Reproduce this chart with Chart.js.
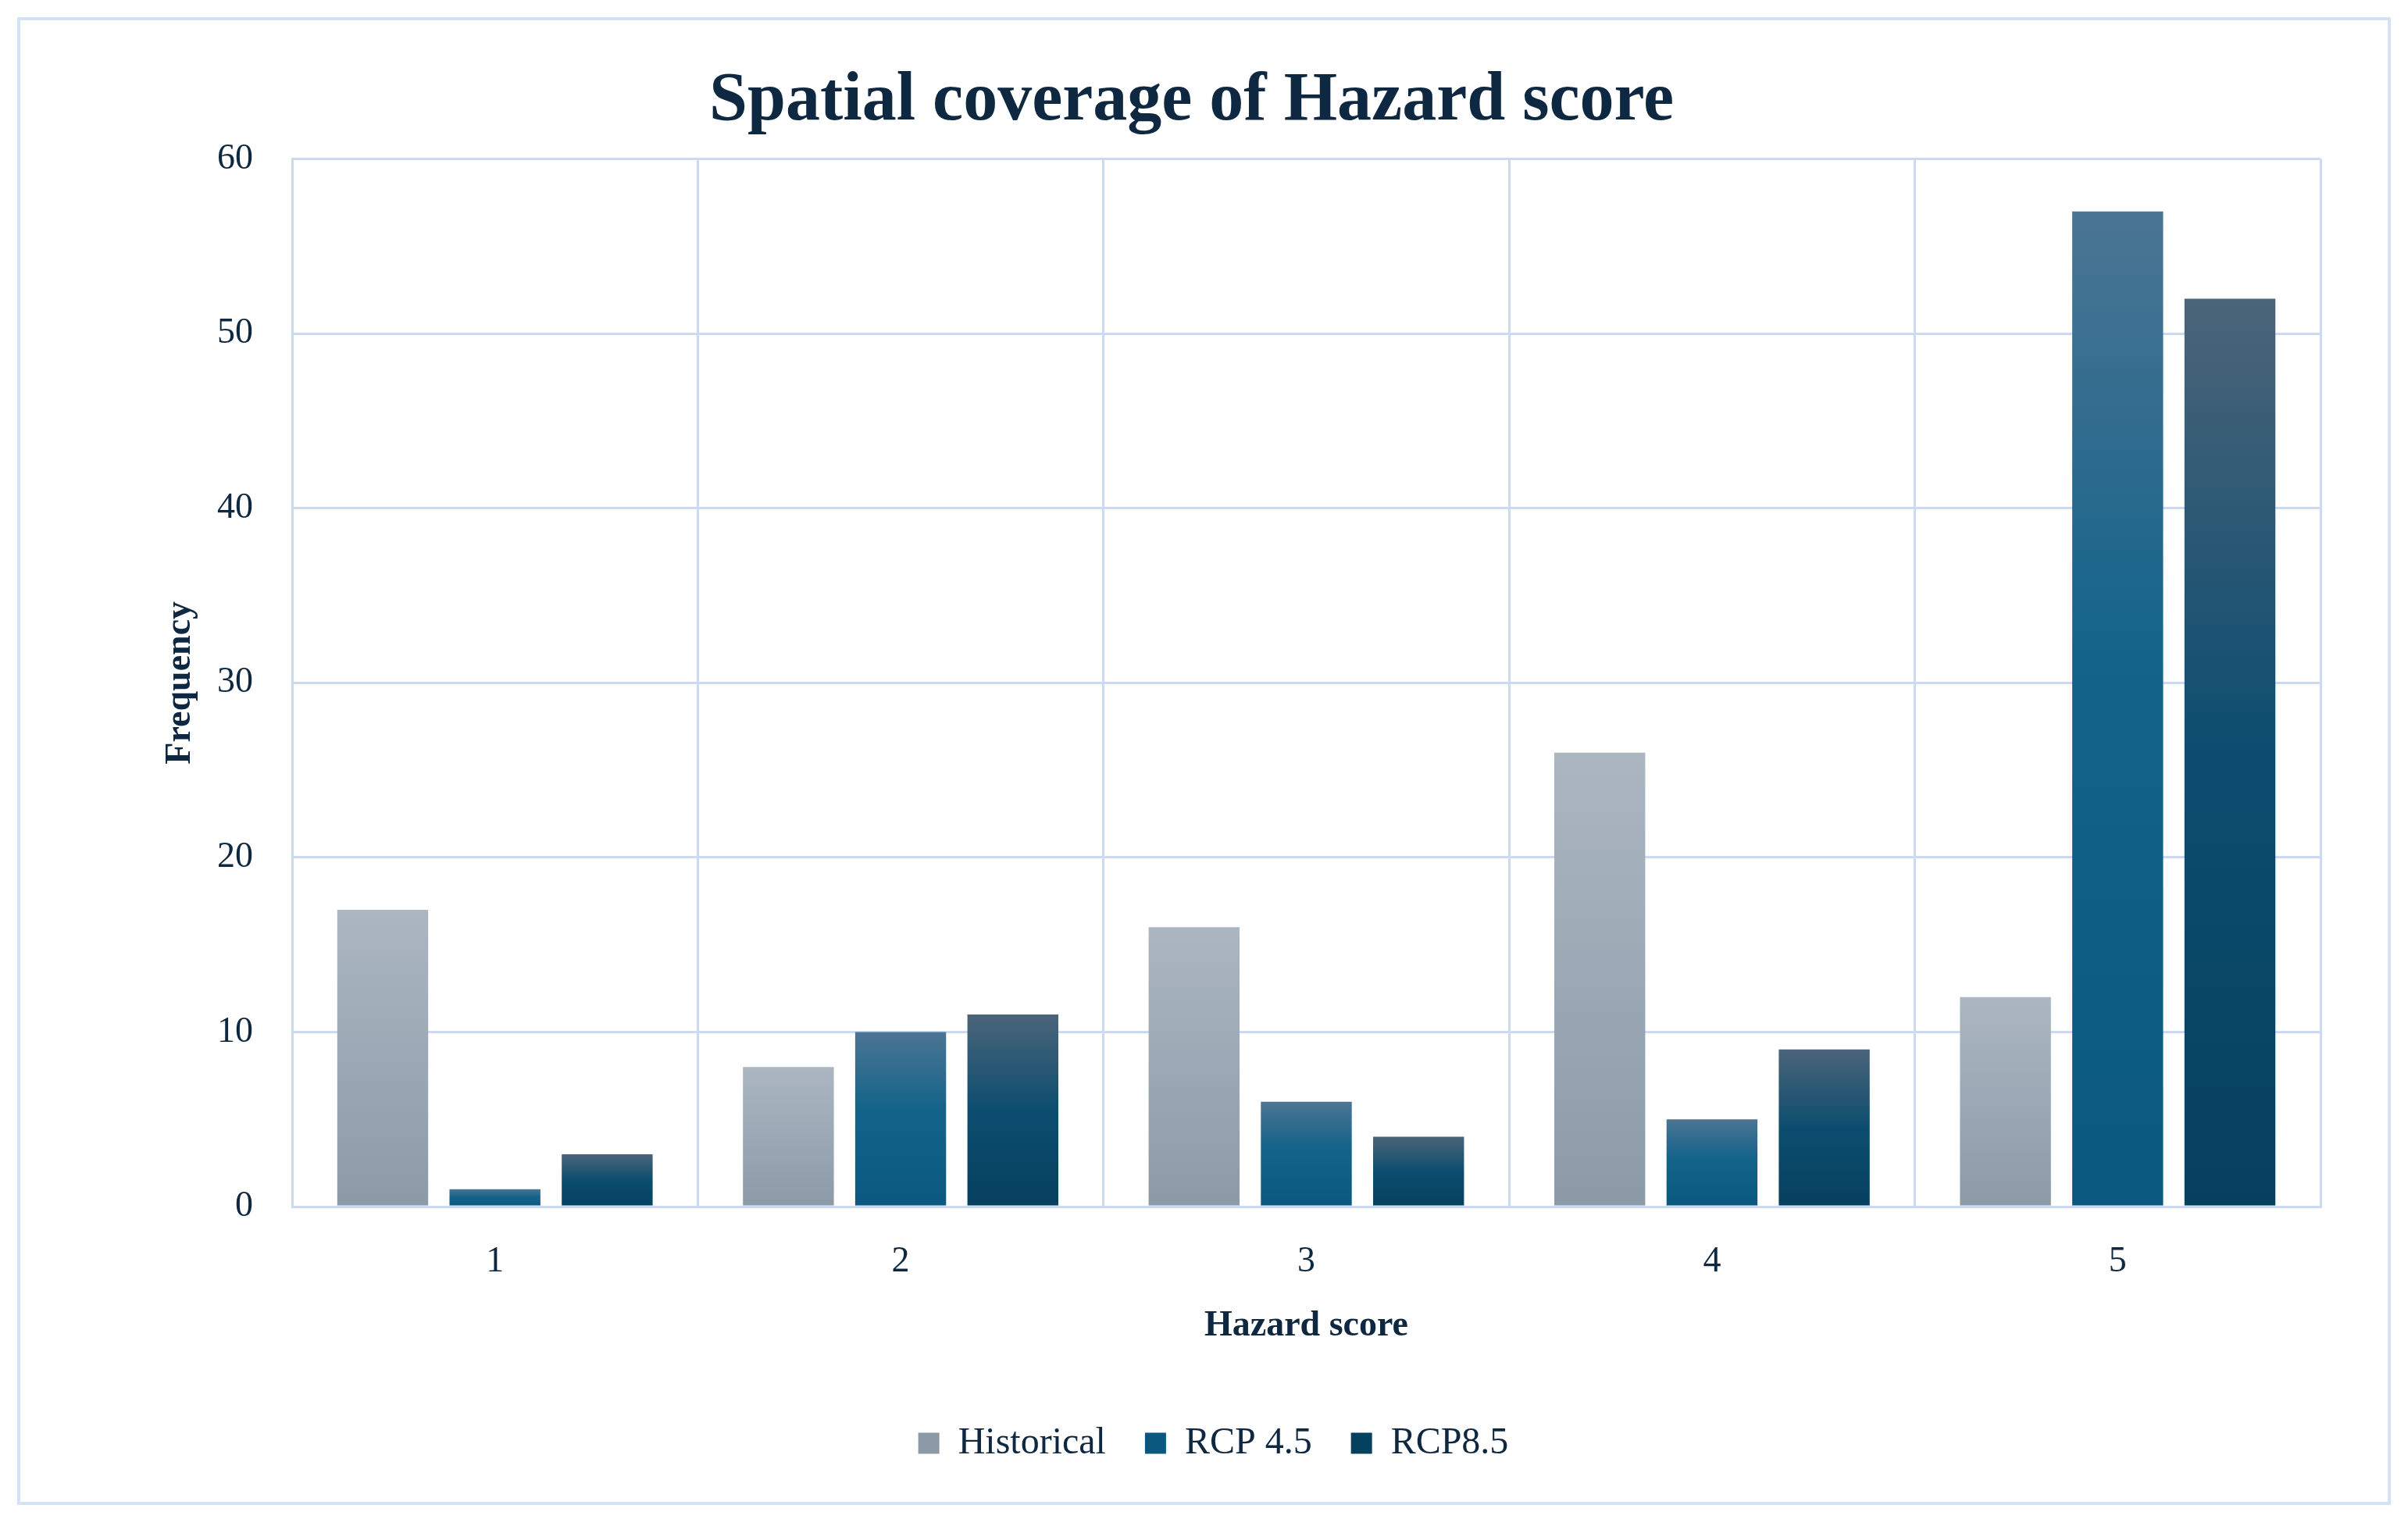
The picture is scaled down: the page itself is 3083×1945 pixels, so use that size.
<!DOCTYPE html>
<html><head><meta charset="utf-8">
<script src="https://cdn.jsdelivr.net/npm/chart.js@4"></script>
<style>html,body{margin:0;padding:0;background:#fff;overflow:hidden;} #wrap{width:3083px;height:1945px;position:relative;}</style>
</head><body><div id="wrap"><canvas id="c" width="3083" height="1945" style="width:3083px;height:1945px"></canvas></div>
<script>
const categories = ['1', '2', '3', '4', '5'];
const historical = [17, 8, 16, 26, 12];
const rcp45 = [1, 10, 6, 5, 57];
const rcp85 = [3, 11, 4, 9, 52];
const seriesNames = ['Historical', 'RCP 4.5', 'RCP8.5'];
const yMin = 0, yMax = 60, yStep = 10;
const chartTitle = 'Spatial coverage of Hazard score';
const xTitle = 'Hazard score';
const yTitle = 'Frequency';

const FONT = "'Liberation Serif', 'Times New Roman', serif";
const TEXT = '#0e2841';
const GRID = '#c9daf1';

function barGradient(stops, solid) {
  return (ctx) => {
    if (ctx.type !== 'data') return solid;
    const chart = ctx.chart;
    const y = chart.scales && chart.scales.y;
    if (!y || y.top === undefined) return solid;
    const v = ctx.parsed ? ctx.parsed.y : ctx.raw;
    const top = y.getPixelForValue(v), base = y.getPixelForValue(0);
    if (!isFinite(top) || !isFinite(base) || Math.abs(base - top) < 1) return solid;
    const g = chart.ctx.createLinearGradient(0, top, 0, base);
    stops.forEach(([o, c]) => g.addColorStop(o, c));
    return g;
  };
}

const frame = {
  id: 'frame',
  beforeDraw(chart) {
    const c = chart.ctx;
    c.save();
    c.fillStyle = '#ffffff';
    c.fillRect(0, 0, chart.width, chart.height);
    c.strokeStyle = '#d3e2f5';
    c.lineWidth = 4;
    c.strokeRect(24, 24, 3035, 1901);
    c.restore();
  },
  afterLayout(chart) {
    const lg = chart.legend;
    if (lg) { lg.left += 28; lg.right += 28; }
  }
};

new Chart(document.getElementById('c'), {
  type: 'bar',
  data: {
    labels: categories,
    datasets: [
      { label: seriesNames[0], data: historical,
        backgroundColor: barGradient([[0, '#abb6c1'], [1, '#8c9aa8']], '#9eaab6') },
      { label: seriesNames[1], data: rcp45,
        backgroundColor: barGradient([[0, '#4b7593'], [0.45, '#13638a'], [1, '#0a5880']], '#1a6488') },
      { label: seriesNames[2], data: rcp85,
        backgroundColor: barGradient([[0, '#4b6479'], [0.5, '#0c4d6f'], [1, '#06405f']], '#174f6d') }
    ]
  },
  options: {
    responsive: false,
    devicePixelRatio: 1,
    animation: false,
    categoryPercentage: 0.83,
    barPercentage: 0.81,
    layout: { padding: { left: 80, right: 112, top: 0, bottom: 63 } },
    plugins: {
      title: {
        display: true, text: chartTitle, color: TEXT,
        font: { family: FONT, size: 88, weight: 'bold' },
        padding: { top: 77, bottom: 21 }
      },
      legend: {
        position: 'bottom',
        labels: {
          color: TEXT, font: { family: FONT, size: 48 },
          boxWidth: 27, boxHeight: 27, padding: 50
        }
      },
      tooltip: { enabled: false }
    },
    scales: {
      x: {
        grid: { color: GRID, lineWidth: 3, offset: true, drawTicks: false },
        border: { display: true, color: GRID, width: 3 },
        ticks: { color: TEXT, font: { family: FONT, size: 46 }, padding: 43 },
        title: { display: true, text: xTitle, color: TEXT,
                 font: { family: FONT, size: 46, weight: 'bold' }, padding: { top: 0, bottom: 48 } },
        afterFit(s) { s.height = 229; }
      },
      y: {
        min: yMin, max: yMax,
        grid: { color: GRID, lineWidth: 3, drawTicks: false },
        border: { display: true, color: GRID, width: 3 },
        ticks: { stepSize: yStep, color: TEXT, font: { family: FONT, size: 46 }, padding: 50 },
        title: { display: true, text: yTitle, color: TEXT,
                 font: { family: FONT, size: 46, weight: 'bold' }, padding: { top: 124, bottom: 0 } },
        afterFit(s) { s.width = 294; }
      }
    }
  },
  plugins: [frame]
});
</script></body></html>
